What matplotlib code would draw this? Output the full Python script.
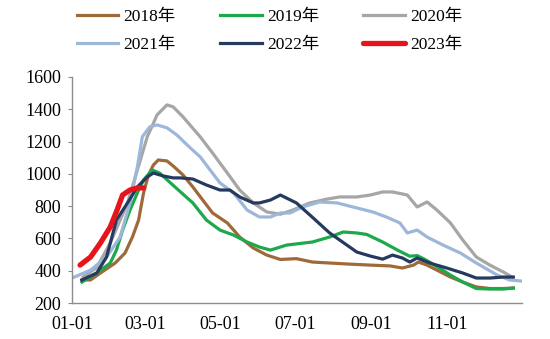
import matplotlib
matplotlib.use("Agg")
import matplotlib.pyplot as plt

# -----------------------------
# Data (day of year, value)
# -----------------------------
days_2018 = [8, 15, 23, 35, 43, 49, 54, 58, 62, 66, 70, 77, 82, 90, 98, 106, 114, 126, 136, 147,
             158, 169, 182, 195, 209, 223, 242, 258, 268, 277, 281, 288, 296, 307, 317, 328, 339, 350, 358]
vals_2018 = [343, 343, 386, 448, 510, 609, 714, 882, 993, 1055, 1086, 1080, 1049, 993, 919, 838, 758, 696, 609, 541,
             497, 470, 475, 454, 448, 442, 435, 430, 417, 435, 454, 435, 404, 361, 330, 300, 290, 290, 293]

days_2019 = [8, 20, 31, 36, 41, 47, 53, 58, 65, 71, 79, 88, 98, 109, 120, 131, 142, 152, 161, 169,
             174, 195, 209, 220, 231, 239, 252, 264, 274, 280, 285, 290, 298, 307, 317, 328, 339, 350, 358]
vals_2019 = [330, 386, 448, 528, 652, 776, 882, 962, 1024, 1005, 950, 888, 820, 714, 652, 621, 578, 547, 528, 547,
             559, 578, 609, 640, 634, 625, 578, 528, 490, 494, 475, 454, 417, 373, 330, 290, 287, 287, 293]

days_2020 = [9, 20, 31, 45, 53, 61, 69, 77, 82, 90, 104, 114, 126, 136, 147, 158, 169, 179, 193,
             207, 217, 231, 242, 252, 260, 272, 280, 288, 296, 307, 317, 328, 339, 350, 357]
vals_2020 = [361, 420, 572, 820, 1024, 1229, 1365, 1427, 1415, 1353, 1229, 1129, 1005, 900, 820, 764, 750, 776, 820,
             844, 857, 857, 869, 888, 888, 869, 795, 826, 776, 696, 590, 485, 435, 392, 361]

days_2021 = [0, 15, 28, 39, 47, 53, 57, 63, 69, 77, 85, 96, 104, 112, 120, 131, 142, 152, 161, 169,
             177, 187, 201, 215, 231, 244, 255, 266, 272, 280, 288, 301, 315, 328, 345, 355, 365]
vals_2021 = [355, 404, 485, 609, 820, 1043, 1229, 1291, 1303, 1285, 1241, 1160, 1105, 1024, 944, 882, 776, 733, 733, 758,
             758, 795, 826, 820, 789, 764, 733, 696, 634, 652, 609, 559, 510, 448, 373, 343, 336]

days_2022 = [8, 20, 28, 36, 45, 53, 61, 66, 74, 82, 88, 98, 109, 120, 128, 136, 147, 152, 161, 169,
             182, 193, 209, 231, 242, 252, 260, 268, 274, 280, 290, 304, 317, 328, 339, 350, 358]
vals_2022 = [343, 386, 485, 714, 820, 919, 981, 1005, 987, 975, 975, 968, 931, 900, 900, 857, 820, 820, 838, 869,
             820, 745, 634, 516, 491, 472, 497, 479, 454, 479, 448, 417, 386, 355, 355, 361, 361]

days_2023 = [6.5, 15, 23, 31, 36.5, 41, 47, 53, 58]
vals_2023 = [435, 485, 572, 671, 776, 869, 900, 913, 913]

tick_days = [0, 59, 120, 181, 243, 304]
tick_labels = ["01-01", "03-01", "05-01", "07-01", "09-01", "11-01"]

# -----------------------------
# Plot
# -----------------------------
plt.rcParams["font.family"] = ["Liberation Serif", "Noto Sans CJK SC"]

fig = plt.figure(figsize=(5.5, 3.39), dpi=100)
ax = fig.add_axes([0.131, 0.106, 0.818, 0.667])

l18, = ax.plot(days_2018, vals_2018, color="#A0693A", lw=2.3, label="2018年")
l19, = ax.plot(days_2019, vals_2019, color="#1BA94C", lw=2.3, label="2019年")
l20, = ax.plot(days_2020, vals_2020, color="#A6A6A6", lw=2.3, label="2020年")
l21, = ax.plot(days_2021, vals_2021, color="#9DB7DA", lw=2.3, label="2021年")
l22, = ax.plot(days_2022, vals_2022, color="#253A5E", lw=2.3, label="2022年")
l23, = ax.plot(days_2023, vals_2023, color="#E8141B", lw=3.8, label="2023年",
               solid_capstyle="round")

ax.set_xlim(0, 365)
ax.set_ylim(200, 1600)
ax.set_yticks(range(200, 1601, 200))
ax.set_xticks(tick_days)
ax.set_xticklabels(tick_labels)

for s in ["top", "right"]:
    ax.spines[s].set_visible(False)
for s in ["left", "bottom"]:
    ax.spines[s].set_color("#8C8C8C")
    ax.spines[s].set_linewidth(1.0)

ax.tick_params(axis="y", length=3, color="#8C8C8C", pad=5, labelsize=13)
ax.tick_params(axis="x", length=0, pad=9, labelsize=13)

# legend filled column-wise, so reorder to get rows 2018-2020 / 2021-2023
handles = [l18, l21, l19, l22, l20, l23]
fig.legend(handles, [h.get_label() for h in handles], ncol=3, loc="upper center",
           bbox_to_anchor=(0.49, 1.02), frameon=False, fontsize=12.5,
           handlelength=2.4, handletextpad=0.3, columnspacing=2.55, labelspacing=0.7)

fig.savefig("out.png", dpi=100)
